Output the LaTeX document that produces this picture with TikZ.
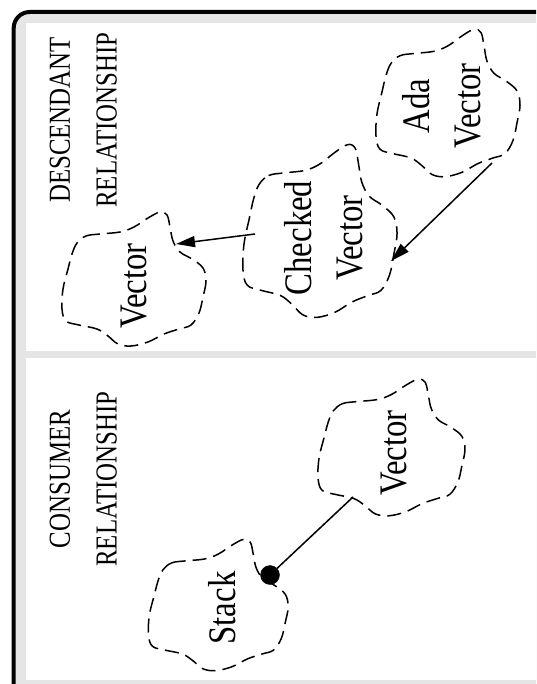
\documentclass[tikz,border=0pt]{standalone}
\usepackage{fontspec}
\setmainfont{Liberation Serif}
\usepackage{xcolor}
\usetikzlibrary{arrows.meta, calc, positioning}
\definecolor{framegray}{HTML}{E5E5E5}
\tikzset{
    headnode/.style = {draw=none, fill=none, rectangle, inner sep=0em, rotate=90, xscale=0.815,
      align=center, font=\fontsize{30.5pt}{46.7pt}\selectfont},
    cloudnode/.style = {draw=none, fill=none, rectangle, inner sep=0em, rotate=90, xscale=0.84,
      align=center, font=\fontsize{39pt}{51pt}\selectfont},
    cloudline/.style = {black, line width=1.5pt, dash pattern=on 14pt off 7pt},
    connect/.style = {black, line width=1.5pt, -{Triangle[length=19pt,width=11pt]}},
    uses/.style = {black, line width=1.5pt},
    dotnode/.style = {draw, fill=black, circle, minimum size=19pt, inner sep=0em},
    blob/.pic = {
      \draw [cloudline] plot [smooth cycle, tension=0.6] coordinates {
        (-57,-36) (-48,-43) (-34,-45) (-14,-47) (0,-52) (14,-61) (26,-67) (33,-64)
        (36,-52) (39,-38) (46,-27) (58,-20) (69,-11) (72,2) (69,18) (65,34)
        (57,46) (45,50) (30,55) (14,63) (-3,67) (-16,65) (-26,57) (-37,50)
        (-55,46) (-68,42) (-72,30) (-71,10) (-66,-10) (-62,-25)};
    }
}

\begin{document}
\begin{tikzpicture}[x=1pt, y=-1pt]
    \useasboundingbox (0,0) rectangle (536,684);
    \clip (0,0) rectangle (536,684);

    % frame and the two panels
    \draw [line width=4pt, fill=framegray, rounded corners=16pt] (13.7,12) rectangle (560,700);
    \fill [white] (25.7,22.7) rectangle (560,351);
    \fill [white] (25.7,358.3) rectangle (560,680);

    % descendant panel
    \node [name=desc, headnode] at (83.3,120) {DESCENDANT\\RELATIONSHIP};
    \node [name=dvec, cloudnode] at (134.5,286) {Vector};
    \node [name=checked, cloudnode] at (323.3,238) {Checked\\Vector};
    \node [name=ada, cloudnode] at (441.5,106) {Ada\\Vector};
    \pic at (134,279) {blob};
    \pic [xscale=1.07, yscale=1.29] at (320,231) {blob};
    \pic [xscale=1.0, yscale=1.1] at (448,103) {blob};
    \draw [connect] ([shift={(-68.3,-4)}]checked.center) -- ([shift={(41.5,-42)}]dvec.center);
    \draw [connect] ([shift={(50.5,57)}]ada.center) -- ([shift={(67.7,23)}]checked.center);

    % consumer panel
    \node [name=cons, headnode] at (83.3,479) {CONSUMER\\RELATIONSHIP};
    \node [name=cvec, cloudnode] at (394.5,453) {Vector};
    \node [name=stack, cloudnode] at (222.5,608) {Stack};
    \pic [xscale=1.02, yscale=1.02] at (391.5,447.5) {blob};
    \pic [xscale=0.97, yscale=0.98] at (218.3,605) {blob};
    \node [name=stackdot, dotnode] at ([shift={(47.5,-33)}]stack.center) {};
    \draw [uses] ([shift={(-41.5,44)}]cvec.center) -- (stackdot);
\end{tikzpicture}
\end{document}
